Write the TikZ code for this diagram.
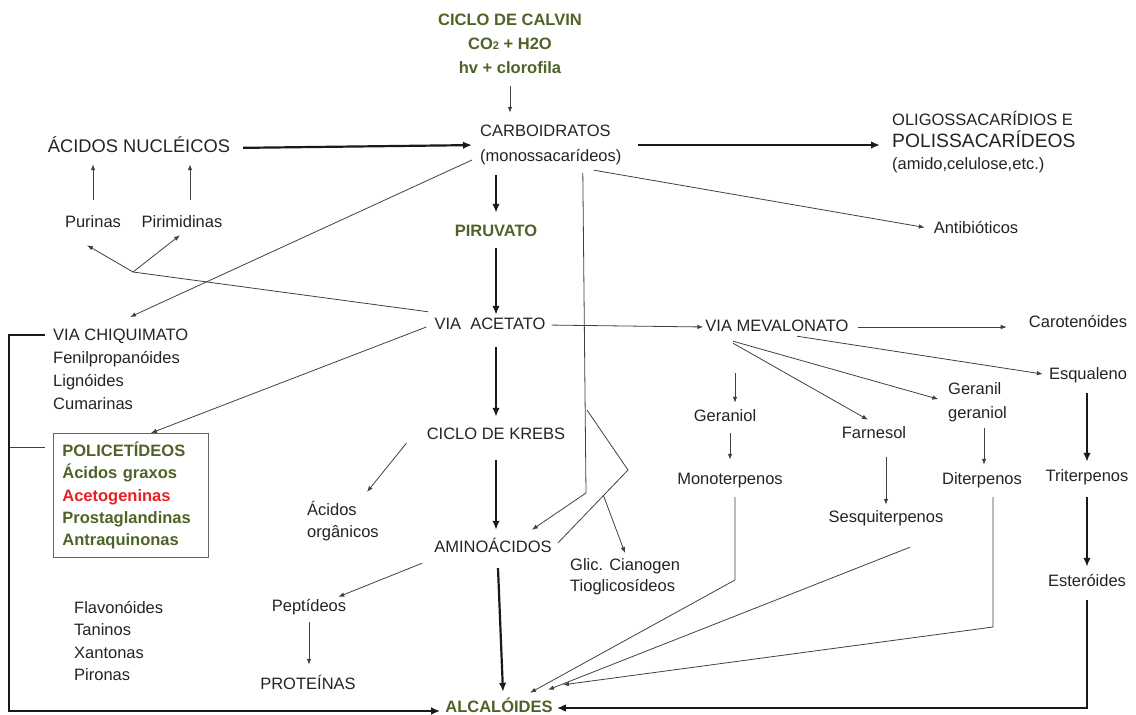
\documentclass[tikz,border=0pt]{standalone}
\usepackage{fontspec}
\setmainfont{Liberation Sans}
\usepackage{tikz}
\usetikzlibrary{arrows.meta,positioning,calc}
\definecolor{calvingreen}{RGB}{79,98,40}
\definecolor{acetored}{RGB}{235,30,35}
\definecolor{inkgray}{RGB}{35,35,35}
\tikzstyle{item} = [inner sep=0pt, text height=12pt, text depth=4pt, text=inkgray, font=\fontsize{16.5}{22}\selectfont]
\tikzstyle{itemlist} = [inner sep=0pt, align=left, text=inkgray, font=\fontsize{16.5}{23}\selectfont]
\tikzstyle{keyitem} = [item, text=calvingreen, font=\fontsize{16.5}{22}\selectfont\bfseries]
\tikzset{flow/.style = {
    >=Latex,
    -{>[length=6pt, width=4.5pt]},
    line width=0.8pt, draw=black!75
  },
  mainflow/.style = {
    >=Latex,
    -{>[length=9pt, width=7.5pt]},
    line width=2.2pt, draw=black!90
  },
  thinline/.style = {line width=0.8pt, draw=black!75}
}

\begin{document}
\begin{tikzpicture}[x=1pt, y=-1pt]
  \useasboundingbox (0,0) rectangle (1136,715);
  % vertices
  \tikzstyle{polibox} = [draw=black!60, line width=0.8pt, anchor=north west, inner xsep=9pt, inner ysep=0pt, text width=137pt, minimum height=124pt, align=left, text=calvingreen, font=\fontsize{16.5}{22.3}\selectfont\bfseries]

  \node[itemlist, align=center, text=calvingreen, font=\fontsize{16.5}{24}\selectfont\bfseries] (calvin) at (510,44) {CICLO DE CALVIN\\CO{\fontsize{11}{11}\selectfont 2} + H2O\\hv + clorofila};
  \node[itemlist, anchor=west, font=\fontsize{16.5}{25}\selectfont] (carb) at (480,145) {CARBOIDRATOS\\(monossacarídeos)};
  \node[item, font=\fontsize{18.3}{22}\selectfont] (acnuc) at (139,148) {ÁCIDOS NUCLÉICOS};
  \node[itemlist, anchor=west, font=\fontsize{16.5}{22}\selectfont] (oligo) at (892,142) {OLIGOSSACARÍDIOS E\\{\fontsize{19.3}{23}\selectfont POLISSACARÍDEOS}\\(amido,celulose,etc.)};
  \node[item] (antib) at (976,229) {Antibióticos};
  \node[item] (purin) at (93,223) {Purinas};
  \node[item] (pirim) at (182,223) {Pirimidinas};
  \node[keyitem] (piruv) at (496,232) {PIRUVATO};

  \node[item] (acet) at (490,325) {VIA\ \ ACETATO};
  \node[item] (meval) at (777,327) {VIA MEVALONATO};
  \node[item] (carot) at (1078,323) {Carotenóides};
  \node[itemlist, anchor=north west] (chiq) at (53,329) {VIA CHIQUIMATO\\Fenilpropanóides\\Lignóides\\Cumarinas};
  \node[polibox] (polic) at (53,433) {POLICETÍDEOS\\Ácidos graxos\\\textcolor{acetored}{Acetogeninas}\\Prostaglandinas\\Antraquinonas};

  \node[itemlist, anchor=north west, font=\fontsize{16.5}{22}\selectfont] (acorg) at (307,501) {Ácidos\\orgânicos};
  \node[item] (krebs) at (496,435) {CICLO DE KREBS};
  \node[item] (amino) at (493,548) {AMINOÁCIDOS};
  \node[itemlist, anchor=north west, font=\fontsize{16.5}{21}\selectfont] (glic) at (570,558) {Glic. Cianogen\\Tioglicosídeos};

  \node[item] (geraniol) at (725,417) {Geraniol};
  \node[item] (monot) at (730,480) {Monoterpenos};
  \node[item] (farn) at (874,434) {Farnesol};
  \node[itemlist, anchor=north west, font=\fontsize{16.5}{24}\selectfont] (gergr) at (948,382) {Geranil\\geraniol};
  \node[item] (diterp) at (982,480) {Diterpenos};
  \node[item] (sesq) at (886,518) {Sesquiterpenos};
  \node[item] (esqual) at (1088,375) {Esqualeno};
  \node[item] (triterp) at (1087,477) {Triterpenos};
  \node[item] (esteroid) at (1087,582) {Esteróides};

  \node[itemlist, anchor=north west, font=\fontsize{16.5}{22.4}\selectfont] (flavo) at (74,601) {Flavonóides\\Taninos\\Xantonas\\Pironas};
  \node[item] (pept) at (309,607) {Peptídeos};
  \node[item] (prot) at (308,685) {PROTEÍNAS};
  \node[keyitem] (alcal) at (499,708) {ALCALÓIDES};

  \coordinate (nucfork) at (133,272);
  \coordinate (aminobend) at (586,493);
  \coordinate (glicbend) at (628,470);
  \coordinate (glictop) at (587,410);
  \coordinate (glicfoot) at ($(amino.east)+(6,-5)$);
  \coordinate (monobend) at (735,580);
  \coordinate (diterpbend) at (993,627);

  % edges
  \draw[flow, shorten <=12pt, shorten >=12pt] (calvin.south) -- (calvin.south |- carb.north);
  \draw[mainflow, shorten <=13pt, shorten >=8pt] (acnuc.east) -- (carb.west);
  \draw[mainflow, shorten <=16pt, shorten >=12pt] (carb.east) -- (carb.east -| oligo.west);
  \draw[flow, shorten <=15pt, shorten >=8pt] (purin.north) -- (purin.north |- acnuc.south);
  \draw[flow, shorten <=15pt, shorten >=8pt] ([xshift=8pt]pirim.north) -- ([xshift=8pt]pirim.north |- acnuc.south);
  \draw[thinline] ($(acet.north west)+(-6,-5)$) -- (nucfork);
  \draw[flow] (nucfork) -- ($(purin.south)+(-6,14)$);
  \draw[flow] (nucfork) -- ($(pirim.south)+(-2,4)$);
  \draw[flow] ($(carb.west)+(-8,15)$) -- ($(chiq.north west)+(77,-12)$);
  \draw[flow] ($(acet.west)+(-8,2)$) -- ($(polic.north)+(20,0)$);
  \draw[flow, shorten >=9pt] ($(carb.south)+(43,5)$) -- (antib.west);

  \draw[mainflow, shorten <=10pt, shorten >=11pt] (piruv.north |- carb.south) -- (piruv.north);
  \draw[mainflow, shorten <=8pt, shorten >=2pt] (piruv.south) -- (piruv.south |- acet.north);
  \draw[mainflow, shorten <=14pt, shorten >=10pt] (krebs.north |- acet.south) -- (krebs.north);
  \draw[mainflow, shorten <=17pt, shorten >=10pt] (krebs.south) -- (krebs.south |- amino.north);
  \draw[flow] ($(krebs.west)+(-20,8)$) -- ($(acorg.north)+(24,-9)$);

  \draw[flow, shorten <=6pt, shorten >=2pt] (acet.east) -- (meval.west);
  \draw[flow, shorten <=9pt, shorten >=22pt] (meval.east) -- (meval.east -| carot.west);
  \draw[flow, shorten >=6pt] ($(meval.south)+(20,1)$) -- (esqual.west);
  \draw[flow, shorten >=10pt] ($(meval.south)+(-44,6)$) -- (gergr.west);
  \draw[flow] ($(meval.south)+(-44,8)$) -- ($(farn.north)+(-6,-6)$);
  \draw[flow] ($(meval.south)+(-42,38)$) -- ($(geraniol.north)+(10,-6)$);
  \draw[flow, shorten <=8pt, shorten >=12pt] (monot.north |- geraniol.south) -- (monot.north);
  \draw[flow, shorten <=15pt, shorten >=5pt] (sesq.north |- farn.south) -- (sesq.north);
  \draw[flow, shorten <=6pt, shorten >=7pt] ([xshift=2pt]diterp.north |- gergr.south) -- ([xshift=2pt]diterp.north);
  \draw[mainflow, shorten <=10pt, shorten >=7pt] (triterp.north |- esqual.south) -- (triterp.north);
  \draw[mainflow, shorten <=12pt, shorten >=7pt] (triterp.south) -- (esteroid.north);

  \draw[flow] ($(carb.south)+(32,8)$) -- (aminobend) -- ($(amino.north east)+(-20,-10)$);
  \draw[thinline] (glicfoot) -- (glicbend) -- (glictop);
  \draw[flow] ($(glicfoot)!0.65!(glicbend)$) -- ($(glic.north west)+(55,-5)$);
  \draw[flow] ($(amino.south west)+(-12,7)$) -- ($(pept.north east)+(-8,-2)$);
  \draw[flow, shorten <=7pt, shorten >=12pt] (pept.south) -- (pept.south |- prot.north);

  \draw[mainflow] ($(amino.south)+(5,12)$) -- ($(alcal.north)+(4,-8)$);
  \draw[flow] ($(monot.south)+(5,9)$) -- (monobend) -- ($(alcal.north)+(31,-7)$);
  \draw[flow] ($(sesq.south)+(24,21)$) -- ($(alcal.north)+(49,-10)$);
  \draw[flow] ($(diterp.south)+(11,9)$) -- (diterpbend) -- ($(alcal.north)+(64,-15)$);
  \draw[mainflow, shorten <=10pt, shorten >=4pt] (esteroid.south) |- (alcal.east);
  \draw[mainflow, shorten >=5pt] ($(chiq.north west)+(-8,6)$) -- ++(-36,0) |- ($(alcal.west)+(0,3)$);
  \draw[thinline] ($(polic.north west)+(-8,14)$) -- ++(-35,0);
\end{tikzpicture}
\end{document}
